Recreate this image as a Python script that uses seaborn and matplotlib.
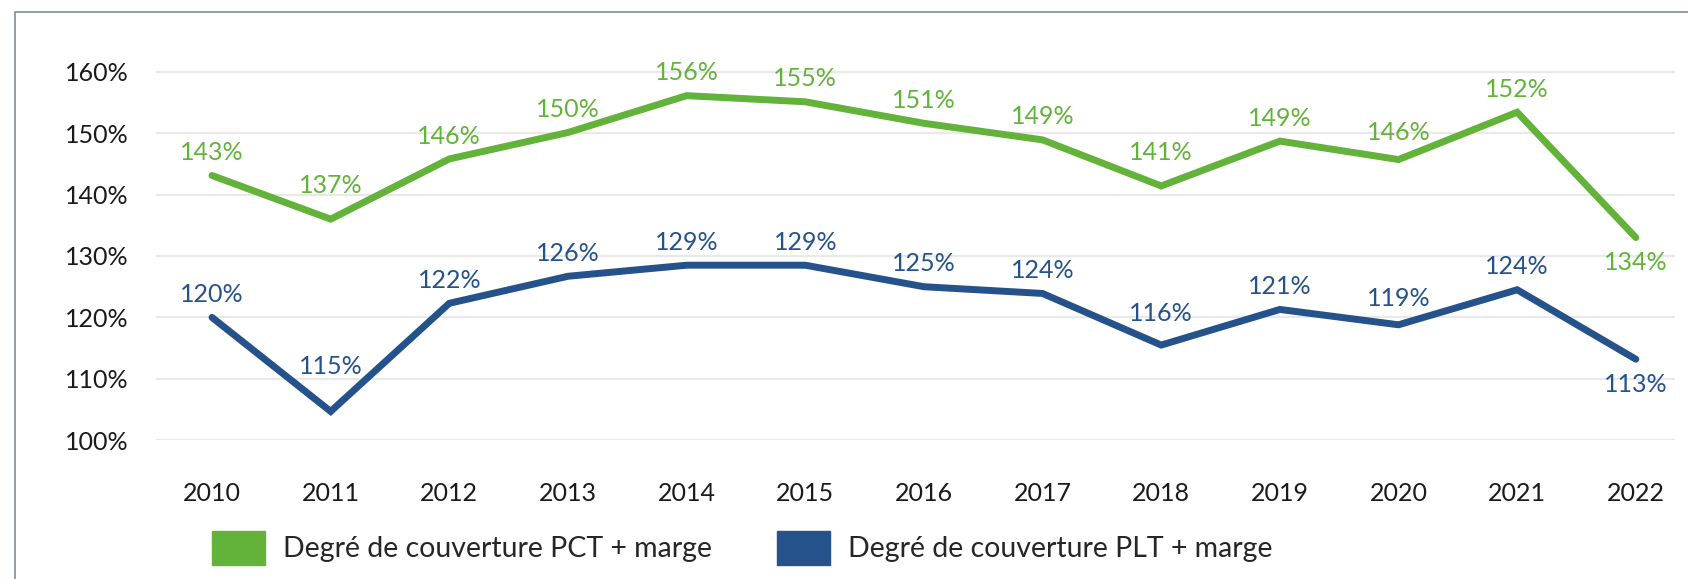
import pandas as pd
import seaborn as sns
import matplotlib.pyplot as plt
from matplotlib.patches import Patch, Rectangle

years = [2010, 2011, 2012, 2013, 2014, 2015, 2016, 2017, 2018, 2019, 2020, 2021, 2022]
pct_values = [143.1, 136.0, 145.8, 150.1, 156.1, 155.1, 151.6, 148.9, 141.4, 148.7, 145.7, 153.4, 133.0]
plt_values = [120.0, 104.7, 122.3, 126.7, 128.5, 128.5, 125.0, 123.9, 115.5, 121.3, 118.8, 124.5, 113.2]
pct_labels = [143, 137, 146, 150, 156, 155, 151, 149, 141, 149, 146, 152, 134]
plt_labels = [120, 115, 122, 126, 129, 129, 125, 124, 116, 121, 119, 124, 113]
y_ticks = [100, 110, 120, 130, 140, 150, 160]
series_names = ["Degré de couverture PCT + marge", "Degré de couverture PLT + marge"]

green = "#63B239"
blue = "#25528A"

df = pd.concat([
    pd.DataFrame({"year": years, "value": pct_values, "serie": series_names[0]}),
    pd.DataFrame({"year": years, "value": plt_values, "serie": series_names[1]}),
])

sns.set_style("white")
plt.rcParams['font.family'] = ['Lato', 'DejaVu Sans']

fig = plt.figure(figsize = (16.88, 5.79), dpi = 100)
ax = fig.add_axes([156 / 1688, 1 - 440.3 / 579, (1675 - 156) / 1688, (440.3 - 59.4) / 579])

# light grid behind the lines
for t in y_ticks:
    ax.axhline(t, color = "#e9e9e9", lw = 1.6, zorder = 0)

sns.lineplot(data = df, x = "year", y = "value", hue = "serie", palette = [green, blue],
             linewidth = 5, legend = False, ax = ax, zorder = 3,
             solid_capstyle = "round", solid_joinstyle = "miter")

# labels above each point, pushed higher in the dips so they clear the line
for vals, labs, col in [(pct_values, pct_labels, green), (plt_values, plt_labels, blue)]:
    n = len(vals)
    for i, (yr, v, lab) in enumerate(zip(years, vals, labs)):
        if i == n - 1:
            dy = -18
        else:
            rise = 0
            if 0 < i < n - 1:
                rise = max(0, min(vals[i - 1] - v, vals[i + 1] - v))
            dy = 16.5 + 1.05 * rise
        ax.annotate(f"{lab}%", (yr, v), xytext = (0, dy),
                    textcoords = "offset points", ha = "center", va = "center",
                    color = col, fontsize = 18, annotation_clip = False, zorder = 4)

ax.set_xlim(2010 - 0.472, 2022 + 0.33)
ax.set_ylim(100, 162)
ax.set_xticks(years)
ax.set_yticks(y_ticks)
ax.set_yticklabels([f"{t}%" for t in y_ticks])
ax.tick_params(axis = "y", length = 0, pad = 20, labelsize = 18, labelcolor = "#1a1a1a")
ax.tick_params(axis = "x", length = 0, pad = 30, labelsize = 18, labelcolor = "#1a1a1a")
ax.set_xlabel("")
ax.set_ylabel("")
sns.despine(ax = ax, left = True, bottom = True)

handles = [Patch(color = green, label = series_names[0]), Patch(color = blue, label = series_names[1])]
fig.legend(handles = handles, loc = "center left", bbox_to_anchor = (198 / 1688, 1 - 548 / 579),
           ncol = 2, frameon = False, fontsize = 20.5, borderpad = 0, handlelength = 1.86,
           handleheight = 1.46, handletextpad = 0.63, columnspacing = 2.28)

# outer frame, cut off on the right and bottom
fig.patches.append(Rectangle((15 / 1688, -0.1), 1.2, 1.1 - 12.5 / 579, transform = fig.transFigure,
                             fill = False, edgecolor = "#7d8d9d", lw = 1.2))

plt.savefig("out.png", dpi = 100)
